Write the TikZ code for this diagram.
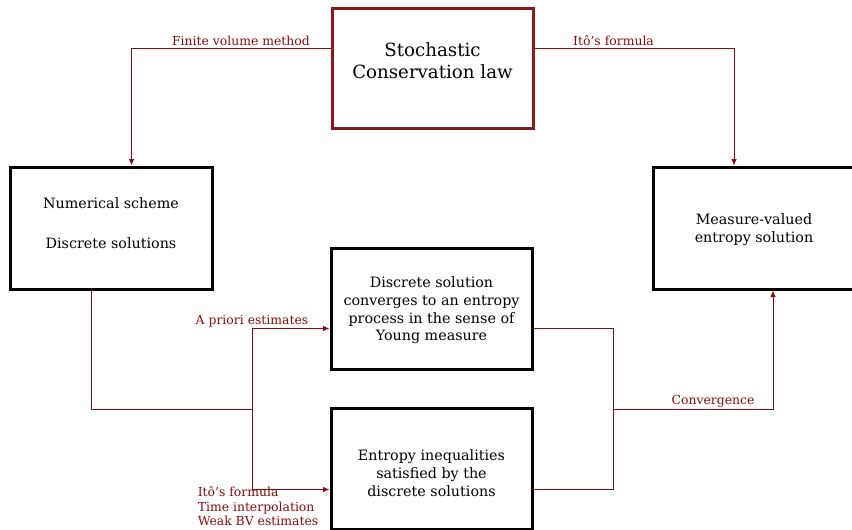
\documentclass[tikz,border=0pt]{standalone}
\usepackage{fontspec}
\setmainfont{DejaVu Serif}
\usetikzlibrary{arrows.meta,calc}
\definecolor{dred}{RGB}{139,10,10}
\definecolor{bred}{RGB}{140,25,25}
\tikzset{
  box/.style={draw=black, line width=3pt, minimum width=201pt, minimum height=121pt, align=center, inner sep=2pt, font=\fontsize{14.3}{17.7}\selectfont},
  boxtext/.style={align=center, inner sep=0pt, font=\fontsize{14.3}{17.7}\selectfont},
  conn/.style={draw=dred, line width=1pt},
  arr/.style={conn, -{Latex[length=6.5pt,width=5.5pt]}},
  lbl/.style={text=dred, inner sep=1pt, font=\fontsize{12.4}{15}\selectfont}
}
\begin{document}
\begin{tikzpicture}[x=1pt,y=-1pt]
\useasboundingbox (0,0) rectangle (852,530);
\node[box, draw=bred, minimum width=201pt, minimum height=120pt] (top) at (432.5,68) {};
\node[font=\fontsize{18.2}{22}\selectfont, align=center] (toptext) at (432.5,61) {Stochastic\\Conservation law};
\node[box, minimum width=202pt, minimum height=122pt] (num) at (111,228) {};
\node[boxtext] (numtext) at (111,223) {Numerical scheme\\[22pt]Discrete solutions};
\node[box, minimum width=202pt, minimum height=122pt] (meas) at (754,228) {};
\node[boxtext] (meastext) at (754,230) {Measure-valued\\entropy solution};
\node[box] (disc) at (431.5,308.5) {};
\node[boxtext] (disctext) at (431.5,310.5) {Discrete solution\\converges to an entropy\\process in the sense of\\Young measure};
\node[box] (ent) at (431.5,469) {};
\node[boxtext] (enttext) at (431.5,473) {Entropy inequalities\\satisfied by the\\discrete solutions};
\draw[arr] ([yshift=20pt]top.west) -| ([xshift=20.5pt]num.north);
\draw[arr] ([yshift=20pt]top.east) -| ([xshift=-20pt]meas.north);
\coordinate (j1) at (252,409);
\coordinate (j2) at (613,409);
\draw[conn] ([xshift=-20pt]num.south) |- (j1);
\draw[arr] (j1) |- ([yshift=-20pt]disc.west);
\draw[arr] (j1) |- ([yshift=-20.5pt]ent.west);
\draw[conn] ([yshift=-20pt]disc.east) -| (j2);
\draw[conn] ([yshift=-20.5pt]ent.east) -| (j2);
\draw[arr] (j2) -| ([xshift=19pt]meas.south);
\node[lbl, anchor=south east] (l1) at (311,47) {Finite volume method};
\node[lbl, anchor=south west] (l2) at (572,47) {Itô’s formula};
\node[lbl, anchor=south] (l3) at (252,328) {A priori estimates};
\node[lbl, anchor=south] (l4) at (713,408) {Convergence};
\node[lbl, anchor=north, align=left, font=\fontsize{12.4}{14.6}\selectfont] (l5) at (258,485.5) {Itô’s formula\\Time interpolation\\Weak BV estimates};
\end{tikzpicture}
\end{document}
